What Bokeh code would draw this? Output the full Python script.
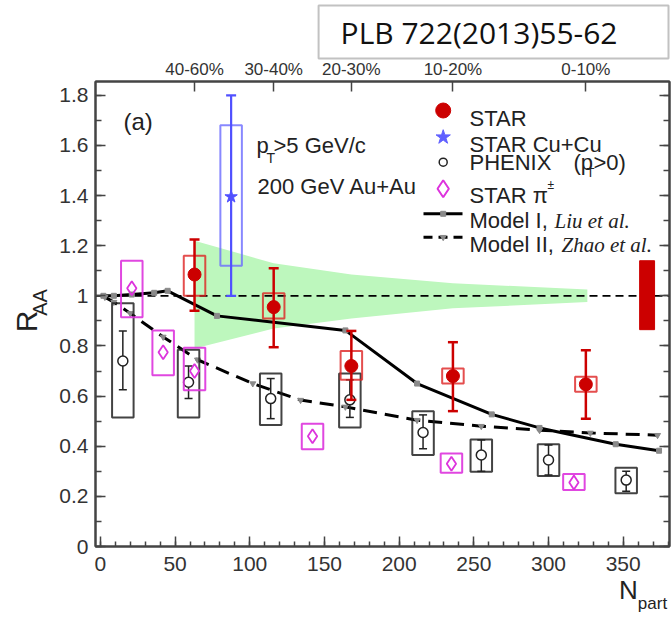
import numpy as np
from bokeh.plotting import figure
from bokeh.models import Range1d, LinearAxis, FixedTicker, Label
from bokeh.embed import file_html
from bokeh.resources import INLINE

# ---------------- data ----------------
star_npart = [63, 116, 168, 236, 325]
star_raa = [1.085, 0.955, 0.72, 0.68, 0.647]
star_stat_lo = [0.94, 0.795, 0.585, 0.54, 0.51]
star_stat_hi = [1.225, 1.11, 0.86, 0.815, 0.783]
star_sys_lo = [1.0, 0.91, 0.665, 0.65, 0.617]
star_sys_hi = [1.16, 1.01, 0.78, 0.71, 0.677]

cucu_npart = [87.5]
cucu_raa = [1.395]
cucu_stat_lo = [1.0]
cucu_stat_hi = [1.80]
cucu_sys_lo = [1.12]
cucu_sys_hi = [1.68]

phenix_npart = [15, 59, 114, 167, 216, 255, 300, 352]
phenix_raa = [0.74, 0.655, 0.59, 0.585, 0.455, 0.365, 0.345, 0.265]
phenix_stat_lo = [0.625, 0.59, 0.51, 0.515, 0.39, 0.30, 0.285, 0.22]
phenix_stat_hi = [0.86, 0.72, 0.67, 0.665, 0.525, 0.425, 0.405, 0.30]
phenix_sys_lo = [0.515, 0.515, 0.485, 0.475, 0.365, 0.298, 0.281, 0.212]
phenix_sys_hi = [0.97, 0.785, 0.69, 0.69, 0.54, 0.427, 0.408, 0.314]

pion_npart = [21, 42, 63, 142, 235, 317]
pion_raa = [1.03, 0.775, 0.70, 0.44, 0.33, 0.255]
pion_sys_lo = [0.915, 0.683, 0.623, 0.388, 0.294, 0.225]
pion_sys_hi = [1.14, 0.862, 0.793, 0.49, 0.371, 0.289]

model1_npart = [2, 9, 21, 36, 45, 78, 164, 212, 262, 294, 345, 374]
model1_raa = [1.0, 1.0, 1.005, 1.012, 1.02, 0.92, 0.862, 0.65, 0.527, 0.473, 0.408, 0.382]

model2_npart = [3, 9, 20, 42, 65, 102, 134, 164, 212, 255, 294, 328, 373]
model2_raa = [0.995, 0.975, 0.93, 0.836, 0.745, 0.65, 0.584, 0.557, 0.504, 0.48, 0.464, 0.453, 0.444]

band_npart = [63, 116, 168, 236, 326]
band_hi = [1.22, 1.13, 1.085, 1.05, 1.025]
band_lo = [0.79, 0.87, 0.91, 0.95, 0.975]

global_npart = [366]
global_lo = [0.865]
global_hi = [1.14]

x_ticks = [0, 50, 100, 150, 200, 250, 300, 350]
x_tick_labels = ["0", "50", "100", "150", "200", "250", "300", "350"]
x_minor = list(range(0, 381, 10))
y_ticks = [0, 0.2, 0.4, 0.6, 0.8, 1.0, 1.2, 1.4, 1.6, 1.8]
y_tick_labels = ["0", "0.2", "0.4", "0.6", "0.8", "1", "1.2", "1.4", "1.6", "1.8"]
y_minor = [round(0.1 * k, 1) for k in range(0, 19)]
cent_npart = [63, 116, 168, 236, 325]
cent_labels = ["40-60%", "30-40%", "20-30%", "10-20%", "0-10%"]

# ---------------- geometry ----------------
W, H = 672, 618
FL, FR, FT, FB = 95, 669, 81, 546
X0, X1 = -3.3, 381.0
Y0, Y1 = 0.0, 1.855
NPX = (X1 - X0) / (FR - FL)      # data units per px (x)
VPX = (Y1 - Y0) / (FB - FT)      # data units per px (y)


def dx(px):
    return X0 + (px - FL) * NPX


def dy(py):
    return Y0 + (FB - py) * VPX


p = figure(width=W, height=H, x_range=Range1d(X0, X1), y_range=Range1d(Y0, Y1),
           output_backend="svg", toolbar_location=None,
           min_border_left=FL, min_border_right=W - FR, min_border_top=FT,
           min_border_bottom=H - FB)
p.xgrid.grid_line_color = None
p.ygrid.grid_line_color = None
p.outline_line_color = "#444444"
p.outline_line_width = 2
p.background_fill_color = "white"
p.border_fill_color = "white"

AXC = "#444444"
TXC = "#333333"
SANS = "Liberation Sans"


def style_axis(ax, ticks, minor, labels, font_size, standoff, tick_len=10, minor_len=6):
    ax.ticker = FixedTicker(ticks=ticks, minor_ticks=minor)
    ax.major_label_overrides = {t: l for t, l in zip(ticks, labels)}
    ax.axis_line_color = AXC
    ax.axis_line_width = 2
    ax.major_tick_line_color = AXC
    ax.major_tick_line_width = 1.5
    ax.minor_tick_line_color = AXC
    ax.minor_tick_line_width = 1.5
    ax.major_tick_in = tick_len
    ax.major_tick_out = 0
    ax.minor_tick_in = minor_len
    ax.minor_tick_out = 0
    ax.major_label_text_font = SANS
    ax.major_label_text_font_size = font_size
    ax.major_label_text_color = TXC
    ax.major_label_standoff = standoff


style_axis(p.xaxis[0], x_ticks, x_minor, x_tick_labels, "21px", 10, 10, 5)
style_axis(p.yaxis[0], y_ticks, y_minor, y_tick_labels, "21px", 7)

right_ax = LinearAxis()
style_axis(right_ax, y_ticks, y_minor, ["" for _ in y_ticks], "0px", 0)
p.add_layout(right_ax, "right")

top_ax = LinearAxis()
style_axis(top_ax, cent_npart, [], cent_labels, "17px", 3)
p.add_layout(top_ax, "above")


# text placed outside the frame: carried by label-only axes
def text_axis(side, pos, text, font_size, standoff, orientation="horizontal"):
    ax = LinearAxis(ticker=FixedTicker(ticks=[pos], minor_ticks=[]))
    ax.major_label_overrides = {pos: text}
    ax.axis_line_color = None
    ax.major_tick_line_color = None
    ax.minor_tick_line_color = None
    ax.major_tick_in = 0
    ax.major_tick_out = 0
    ax.minor_tick_in = 0
    ax.minor_tick_out = 0
    ax.major_label_standoff = standoff
    ax.major_label_text_font = SANS
    ax.major_label_text_font_size = font_size
    ax.major_label_text_color = "#222222"
    ax.major_label_orientation = orientation
    p.add_layout(ax, side)


text_axis("left", dy(302), "AA", "20px", 6, "vertical")
text_axis("left", dy(321), "R", "30px", -17, "vertical")
text_axis("below", dx(628), "N", "26px", 1)
text_axis("below", dx(652), "part", "17px", -14)

# reference box as the plot title
p.title.text = "PLB 722(2013)55-62"
p.title.text_font = "Open Sans"
p.title.text_font_size = "30px"
p.title.text_font_style = "normal"
p.title.text_color = "#111111"
p.title.align = "right"
p.title.vertical_align = "bottom"
p.title.offset = 1
p.title.standoff = -4
p.title.background_fill_color = "white"
p.title.border_line_color = "#a8a8a8"
p.title.border_line_alpha = 0.7
p.title.border_line_width = 2
p.title.padding = dict(left=22, right=51, top=6, bottom=6)

# ---------------- glyphs ----------------
# green normalisation band
p.patch(band_npart + band_npart[::-1], band_hi + band_lo[::-1],
        fill_color="#bdf7bd", line_color=None)

# dashed unity line
p.line([X0, X1], [1, 1], line_color="black", line_width=1.8, line_dash="8 5")

# global uncertainty box
p.quad(left=[n - 5 for n in global_npart], right=[n + 5 for n in global_npart],
       bottom=global_lo, top=global_hi, fill_color="#cc0000", line_color="#cc0000")

# models
p.line(model1_npart, model1_raa, line_color="black", line_width=3)
p.scatter(model1_npart, model1_raa, marker="square", size=5, fill_color="#8a8a8a", line_color="#8a8a8a")
p.line(model2_npart, model2_raa, line_color="black", line_width=3, line_dash="14 8")
p.scatter(model2_npart, model2_raa, marker="inverted_triangle", size=6, fill_color="#8a8a8a", line_color="#8a8a8a")

HB = 7.2          # half width of systematic boxes in N_part
CAP = 5 * NPX     # half width of error-bar caps


def sysbox(xs, lo, hi, color, alpha=0.85, width=2):
    p.quad(left=[x - HB for x in xs], right=[x + HB for x in xs], bottom=lo, top=hi,
           fill_color=None, line_color=color, line_alpha=alpha, line_width=width)


def errbar(xs, lo, hi, color, width=2.5, cap=CAP):
    p.segment(x0=xs, y0=lo, x1=xs, y1=hi, line_color=color, line_width=width)
    p.segment(x0=[x - cap for x in xs], y0=lo, x1=[x + cap for x in xs], y1=lo, line_color=color, line_width=width)
    p.segment(x0=[x - cap for x in xs], y0=hi, x1=[x + cap for x in xs], y1=hi, line_color=color, line_width=width)


RED = "#cc0000"
BLUE = "#5050ff"
MAG = "#dd33dd"

# PHENIX
sysbox(phenix_npart, phenix_sys_lo, phenix_sys_hi, "#222222", 0.85, 2)
errbar(phenix_npart, phenix_stat_lo, phenix_stat_hi, "#222222", 1.5, 4 * NPX)
p.scatter(phenix_npart, phenix_raa, marker="circle", size=10, fill_color="white", line_color="#222222", line_width=1.5)

# STAR pions
sysbox(pion_npart, pion_sys_lo, pion_sys_hi, MAG, 0.9, 2)
p.scatter(pion_npart, pion_raa, marker="diamond", size=14, fill_color=None, line_color=MAG, line_width=1.8)

# STAR Cu+Cu
sysbox(cucu_npart, cucu_sys_lo, cucu_sys_hi, "#6a6aff", 0.8, 2)
errbar(cucu_npart, cucu_stat_lo, cucu_stat_hi, BLUE, 2.2)
p.scatter(cucu_npart, cucu_raa, marker="star", size=13, fill_color=BLUE, line_color=BLUE)

# STAR Au+Au
sysbox(star_npart, star_sys_lo, star_sys_hi, "#dd2222", 0.8, 2)
errbar(star_npart, star_stat_lo, star_stat_hi, RED, 2.5)
p.scatter(star_npart, star_raa, marker="circle", size=13, fill_color=RED, line_color=RED)


# ---------------- text inside the frame ----------------
def lab(text, px, py, size, align="left", baseline="alphabetic", font=SANS,
        style="normal", color="#222222", angle=0.0):
    p.add_layout(Label(x=dx(px), y=dy(py), text=text, text_font=font,
                       text_font_size=f"{size}px", text_align=align,
                       text_baseline=baseline, text_font_style=style,
                       text_color=color, angle=angle))


lab("(a)", 123, 121, 24)
lab("p", 256, 145, 22)
lab("T", 266, 157, 14)
lab(">5 GeV/c", 273, 145, 22)
lab("200 GeV Au+Au", 257, 186, 22)

# legend
LMX = 442.7
LTX = 469
p.scatter([dx(LMX)], [dy(110)], marker="circle", size=15, fill_color=RED, line_color=RED)
lab("STAR", LTX, 118, 22)
p.scatter([dx(LMX)], [dy(136.7)], marker="star", size=15, fill_color="#6060ff", line_color="#6060ff")
lab("STAR Cu+Cu", LTX, 143.5, 22)
p.scatter([dx(LMX)], [dy(161.7)], marker="circle", size=8, fill_color="white", line_color="#222222", line_width=1.5)
lab("PHENIX", LTX, 162, 22)
lab("(p", 573, 162, 22)
lab("T", 586, 172, 13)
lab(">0)", 593, 162, 22)
p.scatter([dx(LMX)], [dy(188.3)], marker="diamond", size=17, fill_color=None, line_color=MAG, line_width=2)
lab("STAR \u03c0", LTX, 195, 22)
lab("\u00b1", 547, 184, 12)

p.line([dx(423), dx(462)], [dy(213.3), dy(213.3)], line_color="black", line_width=3)
p.scatter([dx(LMX)], [dy(213.3)], marker="square", size=5, fill_color="#8a8a8a", line_color="#8a8a8a")
lab("Model I,", LTX, 220, 22)
lab("Liu et al.", 554, 220, 21, font="Liberation Serif", style="italic")
p.line([dx(423), dx(462)], [dy(236.7), dy(236.7)], line_color="black", line_width=3, line_dash="9 6")
p.scatter([dx(LMX)], [dy(236.7)], marker="inverted_triangle", size=6, fill_color="#8a8a8a", line_color="#8a8a8a")
lab("Model II,", LTX, 244, 22)
lab("Zhao et al.", 561, 244, 21, font="Liberation Serif", style="italic")

open("out.html", "w").write(file_html(p, INLINE))
